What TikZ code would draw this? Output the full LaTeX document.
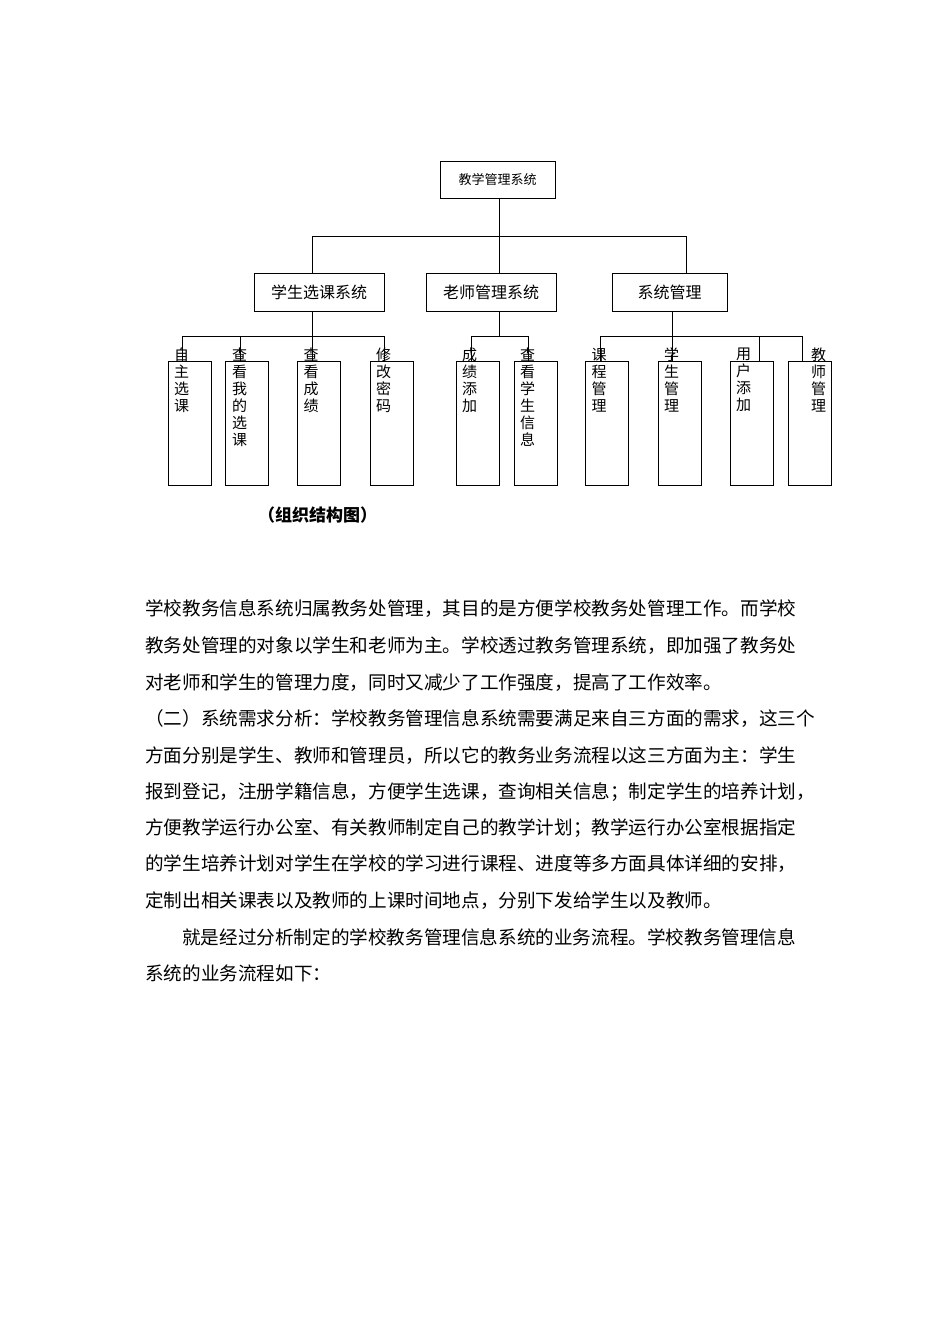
\documentclass[tikz,border=0pt]{standalone}
\usepackage{fontspec}
\setmainfont{Noto Sans CJK SC}
\begin{document}
\begin{tikzpicture}[x=1pt,y=-1pt,
  bx/.style={draw,line width=0.8pt,inner sep=0pt},
  ln/.style={line width=0.8pt},
  leaf/.style={bx,minimum width=43pt,minimum height=124pt},
  lt/.style={font=\fontsize{15}{17}\selectfont,align=center,anchor=north,inner sep=0pt},
  para/.style={anchor=west,inner sep=0pt,font=\fontsize{18.6}{20}\selectfont}]
\useasboundingbox (0,0) rectangle (950,1344);
\node[bx,minimum width=115pt,minimum height=37pt,font=\fontsize{13}{15}\selectfont] (top) at (497.5,179.5) {教学管理系统};
\node[bx,minimum width=130pt,minimum height=38pt,font=\fontsize{16}{18}\selectfont] (s) at (319,292) {学生选课系统};
\node[bx,minimum width=130pt,minimum height=38pt,font=\fontsize{16}{18}\selectfont] (t) at (491,292) {老师管理系统};
\node[bx,minimum width=115pt,minimum height=38pt,font=\fontsize{16}{18}\selectfont] (m) at (669.5,292) {系统管理};
\foreach \n/\x in {l1/189.5,l2/246.5,l3/319,l4/391.5,l5/477.5,l6/535.5,l7/607,l8/679.5,l9/751.5,l10/809.5}
  \node[leaf] (\n) at (\x,423) {};
\node[lt] at ([xshift=-8pt,yshift=13pt]l1.north) {自\\主\\选\\课};
\node[lt] at ([xshift=-7pt,yshift=13pt]l2.north) {查\\看\\我\\的\\选\\课};
\node[lt] at ([xshift=-8pt,yshift=13pt]l3.north) {查\\看\\成\\绩};
\node[lt] at ([xshift=-8pt,yshift=13pt]l4.north) {修\\改\\密\\码};
\node[lt] at ([xshift=-8pt,yshift=13pt]l5.north) {成\\绩\\添\\加};
\node[lt] at ([xshift=-8pt,yshift=13pt]l6.north) {查\\看\\学\\生\\信\\息};
\node[lt] at ([xshift=-8pt,yshift=13pt]l7.north) {课\\程\\管\\理};
\node[lt] at ([xshift=-8pt,yshift=13pt]l8.north) {学\\生\\管\\理};
\node[lt] at ([xshift=-8pt,yshift=13pt]l9.north) {用\\户\\添\\加};
\node[lt] at ([xshift=9pt,yshift=13pt]l10.north) {教\\师\\管\\理};
% level 1 connectors
\coordinate (b0) at (499,236);
\draw[ln] (top.south -| b0) -- (b0);
\draw[ln] (312,236) -- (686,236);
\draw[ln] (312,236) -- (312,273);
\draw[ln] (499,236) -- (499,273);
\draw[ln] (686,236) -- (686,273);
% level 2
\draw[ln] (312,311) -- (312,336); \draw[ln] (182,336) -- (384,336);
\foreach \x in {182,240,312,384} \draw[ln] (\x,336) -- (\x,361);
\draw[ln] (499,311) -- (499,336); \draw[ln] (471,336) -- (528,336);
\foreach \x in {471,528} \draw[ln] (\x,336) -- (\x,361);
\draw[ln] (672,311) -- (672,336); \draw[ln] (600,336) -- (802,336);
\foreach \x in {600,672,759,802} \draw[ln] (\x,336) -- (\x,361);
\node[font=\fontsize{17}{19}\selectfont\bfseries,anchor=west,inner sep=0pt] (cap) at (258,515) {（组织结构图）};
\node[para] (p1) at (145,609) {学校教务信息系统归属教务处管理，其目的是方便学校教务处管理工作。而学校};
\node[para] (p2) at (145,646) {教务处管理的对象以学生和老师为主。学校透过教务管理系统，即加强了教务处};
\node[para] (p3) at (145,683) {对老师和学生的管理力度，同时又减少了工作强度，提高了工作效率。};
\node[para] (p4) at (145,719) {（二）系统需求分析：学校教务管理信息系统需要满足来自三方面的需求，这三个};
\node[para] (p5) at (145,756) {方面分别是学生、教师和管理员，所以它的教务业务流程以这三方面为主：学生};
\node[para] (p6) at (145,792) {报到登记，注册学籍信息，方便学生选课，查询相关信息；制定学生的培养计划，};
\node[para] (p7) at (145,828) {方便教学运行办公室、有关教师制定自己的教学计划；教学运行办公室根据指定};
\node[para] (p8) at (145,864) {的学生培养计划对学生在学校的学习进行课程、进度等多方面具体详细的安排，};
\node[para] (p9) at (145,901) {定制出相关课表以及教师的上课时间地点，分别下发给学生以及教师。};
\node[para] (p10) at (182,937) {就是经过分析制定的学校教务管理信息系统的业务流程。学校教务管理信息};
\node[para] (p11) at (145,973) {系统的业务流程如下：};
\end{tikzpicture}
\end{document}
